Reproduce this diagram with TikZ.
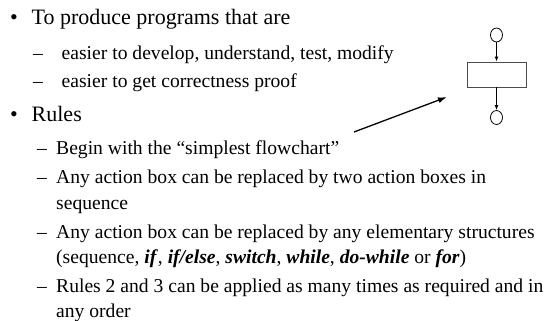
\documentclass[tikz,border=0pt]{standalone}
\usepackage{fontspec}
\setmainfont{Liberation Serif}
\usetikzlibrary{shapes.geometric,arrows.meta}
\begin{document}
\begin{tikzpicture}[x=1pt,y=-1pt,
  toptext/.style={anchor=base west,inner sep=0pt,font=\fontsize{22}{26}\selectfont},
  subtext/.style={anchor=base west,inner sep=0pt,font=\fontsize{19.6}{24}\selectfont},
  bulletmark/.style={anchor=base,inner sep=0pt,font=\fontsize{22}{26}\selectfont},
  dashmark/.style={anchor=base west,inner sep=0pt,font=\fontsize{19.6}{24}\selectfont},
  term/.style={ellipse,draw=black,line width=0.8pt,minimum width=12pt,minimum height=14pt,inner sep=0pt},
  actionbox/.style={rectangle,draw=black!70,line width=0.8pt,minimum width=59pt,minimum height=25pt,inner sep=0pt},
  flowarrow/.style={line width=1pt,-{Latex[length=5pt,width=4pt]}},
  pointer/.style={line width=1.3pt,-{Latex[length=9pt,width=6pt]}}]
\useasboundingbox (0,0) rectangle (550,321);

% first bullet
\node[bulletmark] (b1) at (14,25) {•};
\node[toptext] (t1) at (31.5,25) {To produce programs that are};
\node[dashmark] (d11) at (33,60) {–};
\node[subtext] (s11) at (61.5,60) {easier to develop, understand, test, modify};
\node[dashmark] (d12) at (33,88) {–};
\node[subtext] (s12) at (61.5,88) {easier to get correctness proof};

% second bullet
\node[bulletmark] (b2) at (14,122) {•};
\node[toptext] (t2) at (31.5,122) {Rules};
\node[dashmark] (d21) at (37,155) {–};
\node[subtext] (s21) at (56,155) {Begin with the “simplest flowchart”};
\node[dashmark] (d22) at (37,184) {–};
\node[subtext] (s22) at (56,184) {Any action box can be replaced by two action boxes in};
\node[subtext] (s22b) at (56,209) {sequence};
\node[dashmark] (d23) at (37,238) {–};
\node[subtext] (s23) at (56,238) {Any action box can be replaced by any elementary structures};
\node[subtext] (s23b) at (56,263) {(sequence, \textbf{\textit{if}}, \textbf{\textit{if/else}}, \textbf{\textit{switch}}, \textbf{\textit{while}}, \textbf{\textit{do-while}} or \textbf{\textit{for}})};
\node[dashmark] (d24) at (37,292) {–};
\node[subtext] (s24) at (56,292) {Rules 2 and 3 can be applied as many times as required and in};
\node[subtext] (s24b) at (56,317) {any order};

% simplest flowchart
\node[term] (start) at (496.5,35) {};
\node[actionbox] (act) at (496.5,74.5) {};
\node[term] (stop) at (496.5,117.5) {};
\draw[flowarrow] (start) -- (act);
\draw[flowarrow] (act) -- (stop);

% pointer arrow
\coordinate (ptail) at (354,132);
\coordinate (phead) at (447,97);
\draw[pointer] (ptail) -- (phead);
\end{tikzpicture}
\end{document}
